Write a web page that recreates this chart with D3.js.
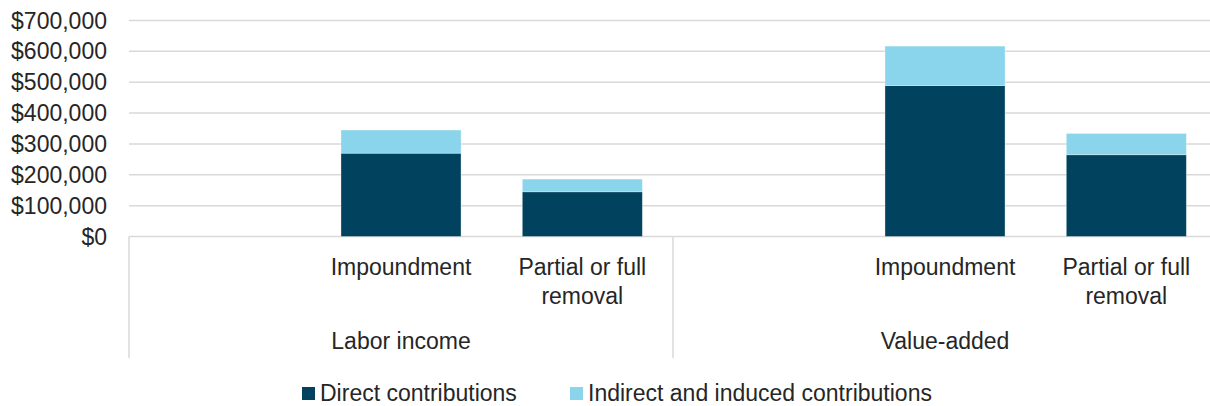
<!DOCTYPE html>
<html>
<head>
<meta charset="utf-8">
<script src="https://cdn.jsdelivr.net/npm/d3@7"></script>
<style>
  body { margin: 0; background: #fff; }
  text { font-family: "Liberation Sans", Arial, sans-serif; fill: #262626; }
</style>
</head>
<body>
<svg id="chart"></svg>
<script>
// data
const groups = ["Labor income", "Value-added"]
const categories = ["", "Impoundment", "Partial or full\nremoval"]
const direct = [[0, 270000, 145000], [0, 489000, 265000]]
const indirect = [[0, 75000, 41000], [0, 128000, 69000]]
const yTicks = [0, 100000, 200000, 300000, 400000, 500000, 600000, 700000]
const seriesNames = ["Direct contributions", "Indirect and induced contributions"]
const colors = ["#01435f", "#8ad4ec"]

const width = 1210
const height = 406
const plotLeft = 129, plotRight = 1217
const plotTop = 20.5, plotBottom = 236.5
const fontSize = "23px"

const svg = d3.select("#chart")
    .attr("width", width)
    .attr("height", height)

// one row per slot
const rows = []
groups.forEach((g, gi) => {
    categories.forEach((c, ci) => {
        rows.push({ group: g, cat: ci, direct: direct[gi][ci], indirect: indirect[gi][ci] })
    })
})

const x0 = d3.scaleBand().domain(groups).range([plotLeft, plotRight])
const x1 = d3.scaleBand().domain(d3.range(categories.length))
    .range([0, x0.bandwidth()])
    .paddingInner(0.338).paddingOuter(0.169)
const y = d3.scaleLinear().domain([0, 700000]).range([plotBottom, plotTop])

// gridlines
svg.append("g")
    .selectAll("line")
    .data(yTicks)
    .enter().append("line")
    .attr("x1", plotLeft).attr("x2", width)
    .attr("y1", d => y(d)).attr("y2", d => y(d))
    .attr("stroke", "#d9d9d9")
    .attr("stroke-width", 1.5)

// y labels
const fmt = d3.format("$,")
svg.append("g")
    .selectAll("text")
    .data(yTicks)
    .enter().append("text")
    .attr("x", 107)
    .attr("y", d => y(d))
    .attr("dy", "0.35em")
    .attr("text-anchor", "end")
    .style("font-size", fontSize)
    .text(d => fmt(d))

// stacked bars
const stack = d3.stack().keys(["direct", "indirect"])
const layers = stack(rows)

svg.append("g")
    .selectAll("g")
    .data(layers)
    .enter().append("g")
    .attr("fill", (d, i) => colors[i])
    .selectAll("rect")
    .data(d => d.filter(p => p[1] > p[0]))
    .enter().append("rect")
    .attr("x", d => x0(d.data.group) + x1(d.data.cat))
    .attr("width", x1.bandwidth())
    .attr("y", d => y(d[1]))
    .attr("height", d => y(d[0]) - y(d[1]))
    .attr("stroke", "#ffffff")
    .attr("stroke-opacity", 0.4)
    .attr("stroke-width", 0.8)

// group dividers (category axis)
const dividers = groups.map(g => x0(g)).concat([plotRight])
svg.append("g")
    .selectAll("line")
    .data(dividers)
    .enter().append("line")
    .attr("x1", d => d).attr("x2", d => d)
    .attr("y1", plotBottom).attr("y2", 358)
    .attr("stroke", "#d9d9d9")
    .attr("stroke-width", 1.5)

// category labels
const catLabels = svg.append("g")
    .selectAll("text")
    .data(rows.filter(r => categories[r.cat] !== ""))
    .enter().append("text")
    .attr("text-anchor", "middle")
    .attr("x", d => x0(d.group) + x1(d.cat) + x1.bandwidth() / 2)
    .attr("y", 275)
    .style("font-size", fontSize)

catLabels.selectAll("tspan")
    .data(d => categories[d.cat].split("\n").map(t => ({ t, x: x0(d.group) + x1(d.cat) + x1.bandwidth() / 2 })))
    .enter().append("tspan")
    .attr("x", d => d.x)
    .attr("dy", (d, i) => i === 0 ? 0 : 29)
    .text(d => d.t)

// group labels
svg.append("g")
    .selectAll("text")
    .data(groups)
    .enter().append("text")
    .attr("text-anchor", "middle")
    .attr("x", d => x0(d) + x1(1) + x1.bandwidth() / 2)
    .attr("y", 349)
    .style("font-size", fontSize)
    .text(d => d)

// legend
const legendX = [302, 570]
const legend = svg.append("g")
    .selectAll("g")
    .data(seriesNames)
    .enter().append("g")
    .attr("transform", (d, i) => `translate(${legendX[i]},387)`)

legend.append("rect")
    .attr("width", 13).attr("height", 13)
    .attr("fill", (d, i) => colors[i])

legend.append("text")
    .attr("x", 18)
    .attr("y", 14)
    .style("font-size", fontSize)
    .text(d => d)
</script>
</body>
</html>
